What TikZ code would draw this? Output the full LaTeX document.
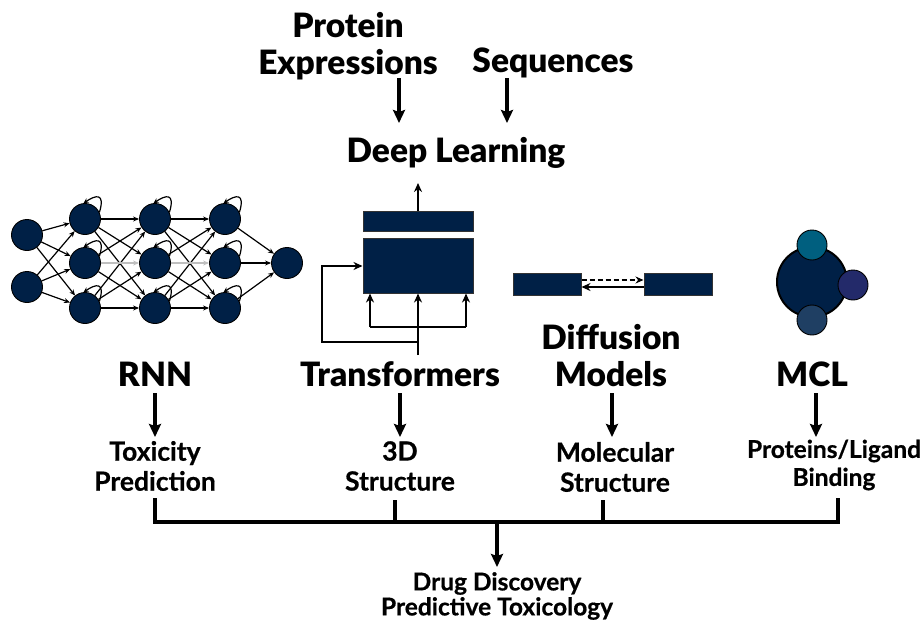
\documentclass[tikz,border=0pt]{standalone}
\usepackage{fontspec}
\setmainfont{Lato}
\IfFontExistsTF{Lato Black}
  {\newfontfamily\heavy{Lato Black}}
  {\newfontfamily\heavy{Lato}[UprightFont=* Bold, FakeBold=1.6]}
\newfontfamily\semi{Lato}[UprightFont=* Bold, FakeBold=0.6]
\usetikzlibrary{arrows.meta}
\definecolor{navy}{RGB}{0,32,70}
\definecolor{tealc}{RGB}{0,95,127}
\definecolor{indc}{RGB}{35,42,106}
\definecolor{slatec}{RGB}{31,63,99}
\tikzset{
  big/.style={font=\heavy\fontsize{33.5}{37}\selectfont, align=center, inner sep=0pt},
  small/.style={font=\semi\fontsize{26.5}{30}\selectfont, align=center, inner sep=0pt},
  smaller/.style={font=\semi\fontsize{24.5}{28}\selectfont, align=center, inner sep=0pt},
  tiny/.style={font=\semi\fontsize{24.5}{25}\selectfont, align=center, inner sep=0pt},
  thickarrow/.style={line width=3.2pt, -{Stealth[length=13pt,width=12pt,inset=2pt]}},
  plainline/.style={line width=3.2pt},
  neuron/.style={circle, fill=navy, draw=black, line width=0.9pt, minimum size=31pt, inner sep=0pt},
  nn/.style={line width=1.2pt, -{Stealth[length=6pt,width=5pt]}},
  nngray/.style={line width=1.2pt, draw=black!25, -{Stealth[length=6pt,width=5pt]}},
  selfloop/.style={line width=1.2pt, -{Stealth[length=5pt,width=5pt]}},
  tbox/.style={rectangle, fill=navy, draw=black!80, line width=1pt, inner sep=0pt},
  tline/.style={line width=2pt},
  tarrow/.style={line width=2pt, -{Stealth[length=9pt,width=8pt]}},
  ball/.style={circle, draw=black, line width=0.9pt, inner sep=0pt}
}
\begin{document}
\begin{tikzpicture}[x=1pt,y=-1pt]
\useasboundingbox (0,0) rectangle (921,621);

% top texts
\node[big] (prot) at (348,46) {Protein\\Expressions};
\node[big] (seq) at (553,63) {Sequences};
\node[big] (dl) at (456,153) {Deep Learning};
\coordinate (pa1) at (399,78); \coordinate (pa2) at (399,123);
\coordinate (sa1) at (507,78); \coordinate (sa2) at (507,123);
\draw[thickarrow] (pa1) -- (pa2);
\draw[thickarrow] (sa1) -- (sa2);

% RNN network
\node[neuron] (i1) at (27,235) {};
\node[neuron] (i2) at (27,287) {};
\foreach \c/\x in {a/85,b/155,c/225}{
  \node[neuron] (\c1) at (\x,219) {};
  \node[neuron] (\c2) at (\x,263) {};
  \node[neuron] (\c3) at (\x,308) {};
}
\node[neuron] (o) at (287,263) {};
\foreach \s in {i1,i2}{\foreach \t in {a1,a2,a3}{\draw[nn] (\s) -- (\t);}}
\foreach \s/\t in {a1/b1,a1/b2,a1/b3,a2/b1,a2/b3,a3/b1,a3/b2,a3/b3,
                   b1/c1,b1/c2,b1/c3,b2/c1,b2/c3,b3/c1,b3/c2,b3/c3}{\draw[nn] (\s) -- (\t);}
\draw[nngray] (a2) -- (b2);
\draw[nngray] (b2) -- (c2);
\foreach \s in {c1,c2,c3}{\draw[nn] (\s) -- (o);}
\foreach \n in {a1,a2,a3,b1,b2,b3,c1,c2,c3}{
  \draw[selfloop] (\n.25) .. controls +(6,-20) and +(12,-8) .. (\n.95);}

% Transformer
\node[tbox, minimum width=110pt, minimum height=20pt] (tb1) at (418,221) {};
\node[tbox, minimum width=110pt, minimum height=55pt] (tb2) at (418,265.5) {};
\coordinate (tout) at (418,183);
\draw[tarrow] (tb1.north) -- (tout);
\coordinate (tin) at (418,355);
\coordinate (tl1) at (418,342);
\coordinate (tl2) at (322,342);
\coordinate (tl3) at (322,266);
\coordinate (tr1) at (370,327);
\coordinate (tr2) at (466,327);
\draw[tarrow] (tin) -- (tb2.south);
\draw[tarrow] (tl1) -- (tl2) -- (tl3) -- (tb2.west |- tl3);
\draw[tline] (tr1) -- (tr2);
\draw[tarrow] (tr1) -- (tr1 |- tb2.south);
\draw[tarrow] (tr2) -- (tr2 |- tb2.south);

% Diffusion
\node[tbox, minimum width=68pt, minimum height=22pt] (d1) at (547,284) {};
\node[tbox, minimum width=68pt, minimum height=22pt] (d2) at (678,284) {};
\draw[tline, dash pattern=on 5pt off 3pt, -{Stealth[length=8pt,width=7pt]}] ([yshift=4pt]d1.east) -- ([yshift=4pt]d2.west);
\draw[tarrow] ([yshift=-3pt]d2.west) -- ([yshift=-3pt]d1.east);

% MCL
\node[ball, fill=navy, line width=2pt, minimum size=70pt] (core) at (812,282) {};
\node[ball, fill=tealc, minimum size=30pt] (m1) at (812,245) {};
\node[ball, fill=indc, minimum size=30pt] (m2) at (853,285) {};
\node[ball, fill=slatec, minimum size=30pt] (m3) at (812,320) {};

% method labels
\node[big] (rnn) at (155,374) {RNN};
\node[big] (trf) at (400,374) {Transformers};
\node[big] (dif) at (611,356) {Diffusion\\Models};
\node[big] (mcl) at (812,374) {MCL};

% outcomes
\node[small] (tox) at (155,466) {Toxicity\\Prediction};
\node[small] (thd) at (400,466) {3D\\Structure};
\node[small] (mol) at (615,467) {Molecular\\Structure};
\node[smaller] (plb) at (834,465) {Proteins/Ligand\\Binding};
\node[tiny] (drug) at (497,596) {Drug Discovery\\Predictive Toxicology};

\foreach \x/\n in {155/r,400/t,612/d,816/m}{
  \coordinate (\n s) at (\x,393); \coordinate (\n e) at (\x,437);
  \draw[thickarrow] (\n s) -- (\n e);
}

% bracket
\coordinate (b1) at (155,498); \coordinate (b1d) at (155,522);
\coordinate (b2) at (395,500); \coordinate (b2d) at (395,522);
\coordinate (b3) at (603,500); \coordinate (b3d) at (603,522);
\coordinate (b4) at (838,498); \coordinate (b4d) at (838,522);
\coordinate (bm) at (497,522); \coordinate (bme) at (497,567);
\draw[plainline] (b1) -- (b1d) -- (b4d) -- (b4);
\draw[plainline] (b2) -- (b2d);
\draw[plainline] (b3) -- (b3d);
\draw[thickarrow] (bm) -- (bme);
\end{tikzpicture}
\end{document}
